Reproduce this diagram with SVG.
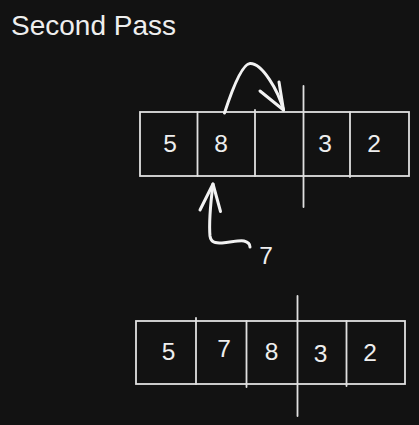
<svg xmlns="http://www.w3.org/2000/svg" width="419" height="425" viewBox="0 0 419 425">
<style>
.box{fill:none;stroke:#e0e0e0;stroke-width:1.8}
.ln{fill:none;stroke:#e0e0e0;stroke-width:1.8;stroke-linecap:round}
.arr{fill:none;stroke:#f2f2f2;stroke-width:3;stroke-linecap:round;stroke-linejoin:round}
.t{font-family:"Liberation Sans",Arial,sans-serif;font-size:24.5px;fill:#eeeeee;text-anchor:middle}
.title{font-family:"Liberation Sans",Arial,sans-serif;font-size:28px;fill:#eeeeee}
</style>
<rect width="419" height="425" fill="#121212"/>
<text class="title" x="11" y="35">Second Pass</text>
<g id="array-top">
<rect class="box" x="140" y="112" width="269" height="64"/>
<line class="ln" x1="197.5" y1="112" x2="197.5" y2="176"/>
<line class="ln" x1="255" y1="110" x2="255" y2="176"/>
<line class="ln" x1="350" y1="112" x2="350" y2="177"/>
<text class="t" x="170" y="152">5</text>
<text class="t" x="221" y="152">8</text>
<text class="t" x="325" y="152">3</text>
<text class="t" x="374" y="152">2</text>
</g>
<g id="cut-top"><line class="ln" x1="303.5" y1="86" x2="303.5" y2="207"/></g>
<g id="label-7"><text class="t" x="266" y="264">7</text></g>
<g id="array-bottom">
<rect class="box" x="136" y="321" width="269" height="63"/>
<line class="ln" x1="196" y1="318" x2="196" y2="384"/>
<line class="ln" x1="246.5" y1="321" x2="246.5" y2="387"/>
<line class="ln" x1="346.5" y1="321" x2="346.5" y2="386"/>
<text class="t" x="168.5" y="360">5</text>
<text class="t" x="224" y="357">7</text>
<text class="t" x="271.5" y="360">8</text>
<text class="t" x="320.5" y="362">3</text>
<text class="t" x="370" y="361">2</text>
</g>
<g id="cut-bottom"><line class="ln" x1="297.5" y1="296" x2="297.5" y2="416"/></g>
<g id="connectors">
<path class="arr" d="M224.5 113 C232 90 242 64 250 63.5 C262 63 278 90 283.5 110"/>
<path class="arr" d="M260 91 L283.5 110 L279 82"/>
<path class="arr" d="M213 184 C211 200 209 225 210 236 C211 243 216 243 222 243 C232 242 240 240 244 241 C248 242 250 244 250 247"/>
<path class="arr" d="M200 210 L213 184 L220.5 211.5"/>
</g>
</svg>
